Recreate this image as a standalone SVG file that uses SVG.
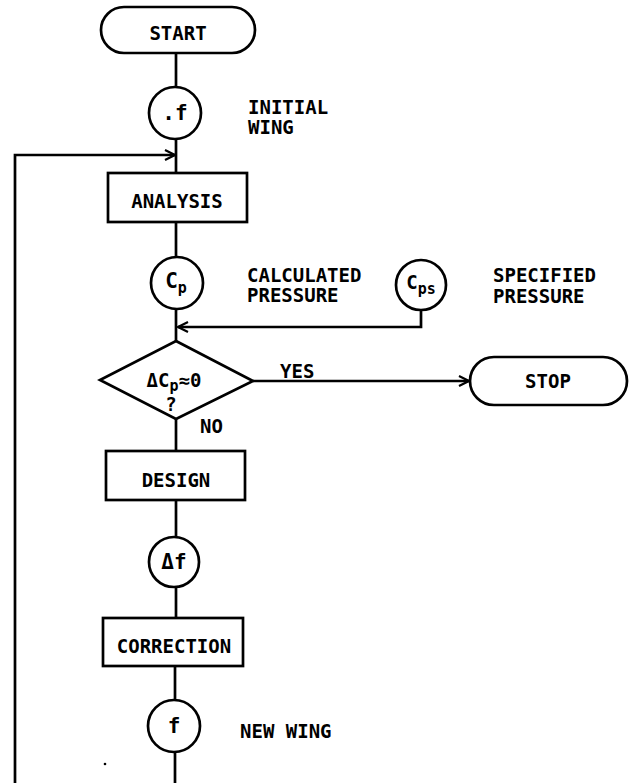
<svg xmlns="http://www.w3.org/2000/svg" width="639" height="783" viewBox="0 0 639 783">
<style>
.s{fill:#fff;stroke:#000;stroke-width:2.7}
.c{fill:none;stroke:#000;stroke-width:2.7}
text{font-family:"DejaVu Sans Mono","Liberation Mono",monospace;font-weight:bold;font-size:19px;fill:#000}
.m{text-anchor:middle}
.sub{font-size:15px}
.big{font-size:21px}
</style>
<defs>
<marker id="ah" viewBox="0 0 12 12" refX="11" refY="6" markerWidth="12" markerHeight="12" markerUnits="userSpaceOnUse" orient="auto">
<path d="M1,1 L11,6 L1,11" fill="none" stroke="#000" stroke-width="2.2"/>
</marker>
</defs>
<rect width="639" height="783" fill="#fff"/>
<g id="connectors">
<line class="c" x1="176" y1="53" x2="176" y2="87"/>
<line class="c" x1="176" y1="139" x2="176" y2="173"/>
<line class="c" x1="176" y1="222" x2="176" y2="257"/>
<line class="c" x1="176" y1="309" x2="176" y2="341"/>
<polyline class="c" points="421,310 421,327 178,327" marker-end="url(#ah)"/>
<line class="c" x1="253" y1="381" x2="469" y2="381" marker-end="url(#ah)"/>
<line class="c" x1="176" y1="419" x2="176" y2="451"/>
<line class="c" x1="176" y1="500" x2="176" y2="537"/>
<line class="c" x1="176" y1="587" x2="176" y2="618"/>
<line class="c" x1="175" y1="666" x2="175" y2="700"/>
<line class="c" x1="175" y1="752" x2="175" y2="783"/>
<polyline class="c" points="15,783 15,155 175,155" marker-end="url(#ah)"/>
</g>
<g id="start">
<rect class="s" x="101" y="7" width="154" height="46" rx="23"/>
<text class="m" x="178" y="40">START</text>
</g>
<g id="f-initial">
<circle class="s" cx="175" cy="113" r="26"/>
<text class="m big" x="175" y="120">.f</text>
<text x="248" y="114">INITIAL</text>
<text x="248" y="134">WING</text>
</g>
<g id="analysis">
<rect class="s" x="108" y="173" width="139" height="49"/>
<text class="m" x="177" y="208">ANALYSIS</text>
</g>
<g id="cp">
<circle class="s" cx="177" cy="283" r="26"/>
<text class="m big" x="176" y="288">C<tspan class="sub" dy="5">p</tspan></text>
<text x="247" y="282">CALCULATED</text>
<text x="247" y="302">PRESSURE</text>
</g>
<g id="cps">
<circle class="s" cx="421" cy="285" r="25"/>
<text class="m" x="421" y="289">C<tspan class="sub" dy="5">ps</tspan></text>
<text x="493" y="282">SPECIFIED</text>
<text x="493" y="303">PRESSURE</text>
</g>
<g id="decision">
<polygon class="s" points="176,341 253,381 176,419 100,380"/>
<text class="m" x="174" y="387">ΔC<tspan class="sub" dy="4">p</tspan><tspan dy="-4">≈0</tspan></text>
<text class="m" x="171" y="411">?</text>
<text x="280" y="378">YES</text>
<text x="200" y="433">NO</text>
</g>
<g id="stop">
<rect class="s" x="470" y="357" width="157" height="48" rx="24"/>
<text class="m" x="548" y="388">STOP</text>
</g>
<g id="design">
<rect class="s" x="106" y="451" width="139" height="49"/>
<text class="m" x="176" y="487">DESIGN</text>
</g>
<g id="delta-f">
<circle class="s" cx="174" cy="562" r="25"/>
<text class="m big" x="174" y="569">Δf</text>
</g>
<g id="correction">
<rect class="s" x="103" y="618" width="140" height="48"/>
<text class="m" x="174" y="653">CORRECTION</text>
</g>
<g id="f-new">
<circle class="s" cx="174" cy="726" r="26"/>
<text class="m big" x="174" y="733">f</text>
<text x="240" y="738">NEW WING</text>
</g>
<circle cx="105" cy="764" r="1.3" fill="#000"/>
</svg>
